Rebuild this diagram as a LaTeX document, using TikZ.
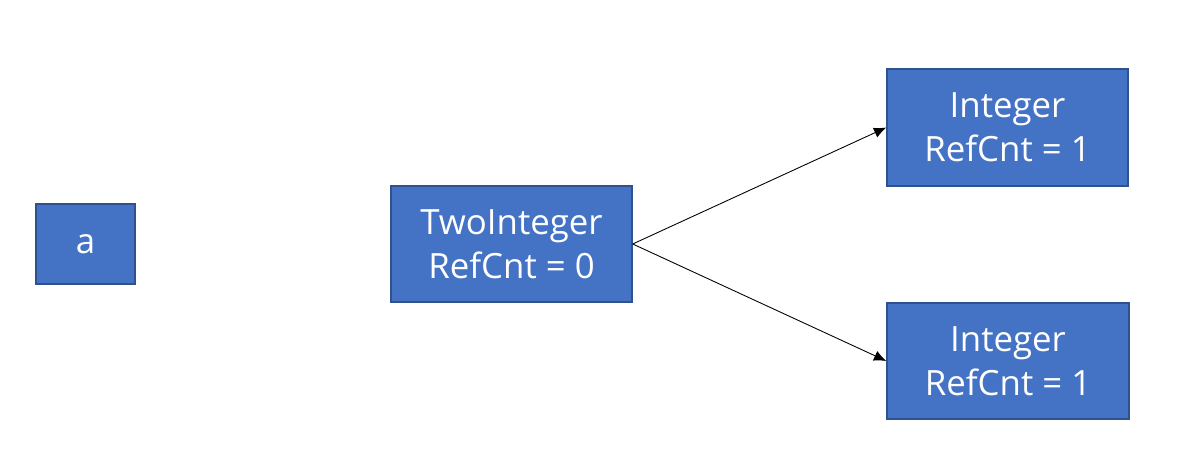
\documentclass[tikz,border=0pt]{standalone}
\usepackage{fontspec}
\setmainfont{Open Sans}
\usepackage{tikz}
\usetikzlibrary{arrows.meta,arrows}
\usetikzlibrary{positioning}
\definecolor{boxfill}{HTML}{4472C4}
\definecolor{boxline}{HTML}{2F528F}

\begin{document}
\begin{tikzpicture}[scale=1]
\tikzstyle{obj node}=[rectangle,draw=boxline,fill=boxfill,text=white,line width=0.8pt,align=center,inner sep=0,font=\fontsize{19.8}{25}\selectfont]
\useasboundingbox (0,0) rectangle (23.74,9.48);

    \node[obj node,minimum width=1.98cm,minimum height=1.6cm]  (a)    at (1.71,4.6)   {a};
    \node[obj node,minimum width=4.82cm,minimum height=2.32cm] (two)  at (10.23,4.6)  {TwoInteger\\RefCnt = 0};
    \node[obj node,minimum width=4.82cm,minimum height=2.34cm] (int1) at (20.15,6.93) {Integer\\RefCnt = 1};
    \node[obj node,minimum width=4.84cm,minimum height=2.32cm] (int2) at (20.16,2.26) {Integer\\RefCnt = 1};

    \path[-{Latex[length=7pt,width=6pt]},line width=0.5pt]
         (two.east) edge node {} (int1.west)
         (two.east) edge node {} (int2.west)
;
\end{tikzpicture}
\end{document}
